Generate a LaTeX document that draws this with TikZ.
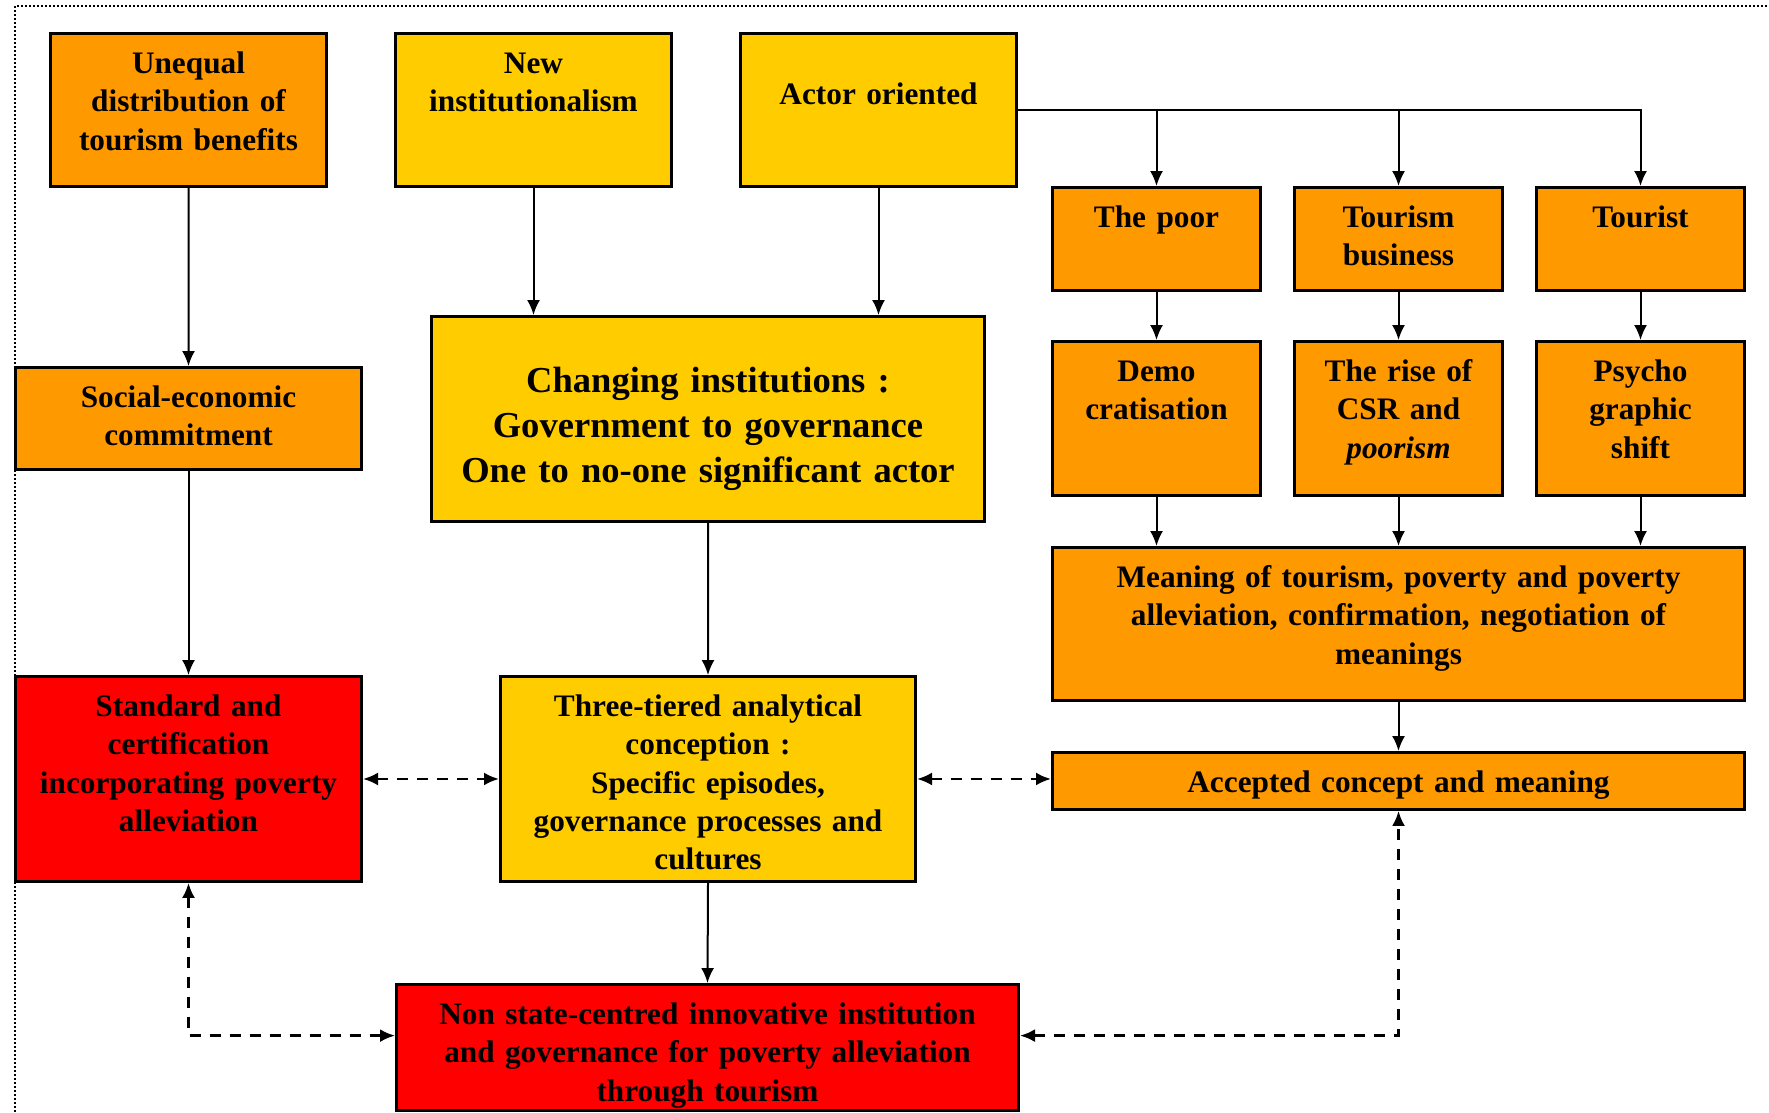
\documentclass[tikz,border=0pt]{standalone}
\usepackage{fontspec}
\setmainfont[WordSpace=0.7]{Liberation Serif}
\usetikzlibrary{arrows.meta}
\definecolor{boxorange}{HTML}{FF9900}
\definecolor{boxyellow}{HTML}{FFCC00}
\definecolor{boxred}{HTML}{FF0000}

\begin{document}
\begin{tikzpicture}[x=0.1mm, y=-0.1mm,
    >={Latex[length=1.5mm, width=1.3mm]},
    box/.style={draw, line width=0.3mm, anchor=north west, inner sep=0pt, align=center,
        text height=11.4pt, font=\fontsize{8.9}{10.9}\selectfont\bfseries},
    link/.style={->, line width=0.2mm},
    dlink/.style={<->, line width=0.25mm, dash pattern=on 1.1mm off 0.9mm}]

    \useasboundingbox (0,0) rectangle (1769,1112);

    % dotted frame
    \draw[line width=0.2mm, dash pattern=on 0.2mm off 0.2mm] (15,1112) -- (15,6) -- (1769,6);

    % TOP ROW
    \node[box, fill=boxorange, text width=27.6mm, text depth=32.1pt] (unequal) at (49,32) {Unequal\\distribution of\\tourism benefits};
    \node[box, fill=boxyellow, text width=27.6mm, text depth=32.1pt] (newinst) at (394,32) {New\\institutionalism};
    \node[box, fill=boxyellow, text width=27.6mm, text height=20.3pt, text depth=23.2pt] (actor) at (739,32) {Actor oriented};

    % ACTORS
    \node[box, fill=boxorange, text width=20.8mm, text depth=17.9pt] (poor) at (1051,186) {The poor};
    \node[box, fill=boxorange, text width=20.8mm, text depth=17.9pt] (business) at (1293,186) {Tourism\\business};
    \node[box, fill=boxorange, text width=20.8mm, text depth=17.9pt] (tourist) at (1535,186) {Tourist};
    \node[box, fill=boxorange, text width=20.8mm, text depth=32.4pt] (demo) at (1051,340) {Demo\\cratisation};
    \node[box, fill=boxorange, text width=20.8mm, text depth=32.4pt] (csr) at (1293,340) {The rise of\\CSR and\\\textit{poorism}};
    \node[box, fill=boxorange, text width=20.8mm, text depth=32.4pt] (psycho) at (1535,340) {Psycho\\graphic\\shift};
    \node[box, fill=boxorange, text width=69.2mm, text depth=32.1pt] (meaning) at (1051,546) {Meaning of tourism, poverty and poverty\\alleviation, confirmation, negotiation of\\meanings};
    \node[box, fill=boxorange, text width=69.2mm, text depth=4.8pt] (accepted) at (1051,751) {Accepted concept and meaning};

    % MIDDLE AND BOTTOM
    \node[box, fill=boxorange, text width=34.6mm, text depth=17.6pt] (social) at (14,366) {Social-economic\\commitment};
    \node[box, fill=boxyellow, text width=55.3mm, text height=21.5pt, text depth=36.8pt,
        font=\fontsize{10.4}{12.8}\selectfont\bfseries] (changing) at (430,315) {Changing institutions :\\Government to governance\\One to no-one significant actor};
    \node[box, fill=boxred, text width=34.6mm, text depth=46.9pt] (standard) at (14,675) {Standard and\\certification\\incorporating poverty\\alleviation};
    \node[box, fill=boxyellow, text width=41.5mm, text depth=46.9pt] (threetier) at (499,675) {Three-tiered analytical\\conception :\\Specific episodes,\\governance processes and\\cultures};
    \node[box, fill=boxred, text width=62.2mm, text depth=24.5pt] (nonstate) at (395,983) {Non state-centred innovative institution\\and governance for poverty alleviation\\through tourism};

    % solid links
    \draw[link] (unequal.south) -- (social.north);
    \draw[link] (social.south) -- (standard.north);
    \draw[link] (newinst.south) -- (newinst.south |- changing.north);
    \draw[link] (actor.south) -- (actor.south |- changing.north);
    \draw[link] (actor.east) -| (poor.north);
    \draw[link] (actor.east) -| (business.north);
    \draw[link] (actor.east) -| (tourist.north);
    \foreach \a/\b in {poor/demo, business/csr, tourist/psycho} {
        \draw[link] (\a.south) -- (\b.north);
        \draw[link] (\b.south) -- (\b.south |- meaning.north);
    }
    \draw[link] (meaning.south) -- (accepted.north);
    \draw[link] (changing.south) -- (threetier.north);
    \draw[link] (threetier.south) -- (nonstate.north);

    % dashed two-way links
    \draw[dlink] (standard.east) -- (threetier.west);
    \draw[dlink] (threetier.east) -- (threetier.east -| accepted.west);
    \draw[dlink] (standard.south) |- ([yshift=1.2mm]nonstate.west);
    \draw[dlink] ([yshift=1.2mm]nonstate.east) -| (accepted.south);

\end{tikzpicture}
\end{document}
